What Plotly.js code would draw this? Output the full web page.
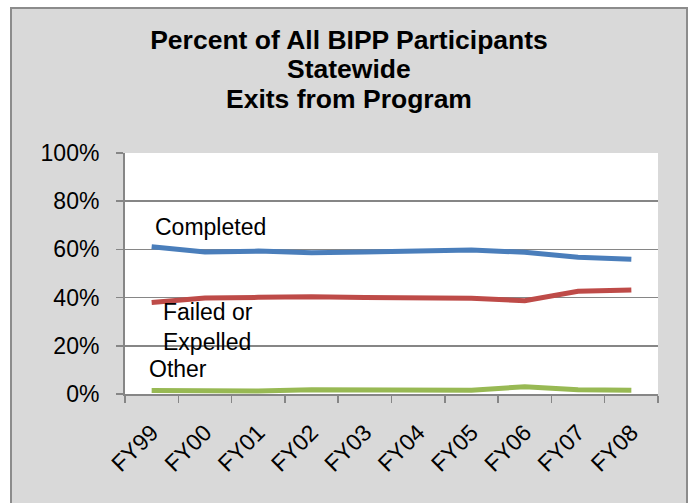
<!DOCTYPE html>
<html>
<head>
<meta charset="utf-8">
<script src="https://cdn.plot.ly/plotly-3.0.1.min.js"></script>
<style>
  html, body { margin: 0; padding: 0; background: #ffffff; width: 692px; height: 503px; overflow: hidden; }
  #frame { position: absolute; left: 10px; top: 7px; width: 674px; height: 500px;
           border-left: 2px solid #8c8c8c; border-top: 2px solid #8c8c8c; border-right: 2px solid #8c8c8c;
           background: #d9d9d9; }
  #chart { position: absolute; left: 12px; top: 9px; width: 674px; height: 494px; }
</style>
</head>
<body>
<div id="frame"></div>
<div id="chart"></div>
<script>
const categories = ["FY99", "FY00", "FY01", "FY02", "FY03", "FY04", "FY05", "FY06", "FY07", "FY08"];
const seriesNames = ["Completed", "Failed or<br>Expelled", "Other"];
const completed = [61.1, 58.9, 59.3, 58.6, 58.9, 59.5, 59.7, 58.8, 56.7, 55.9];
const failedExpelled = [38.0, 39.8, 40.1, 40.4, 40.0, 40.0, 39.7, 38.7, 42.6, 43.2];
const other = [1.5, 1.4, 1.2, 1.8, 1.9, 1.6, 1.6, 3.0, 1.8, 1.6];
const yTickVals = [0, 20, 40, 60, 80, 100];
const titleLines = ["Percent of All BIPP Participants", "Statewide", "Exits from Program"];

const colors = ["#4a7ebb", "#be4b48", "#98b954"];
const seriesValues = [completed, failedExpelled, other];

const traces = seriesValues.map((vals, i) => ({
  type: "scatter",
  mode: "lines",
  x: categories,
  y: vals,
  name: seriesNames[i],
  line: { color: colors[i], width: 5 },
  hoverinfo: "skip"
}));

const FONT = "Liberation Sans, Arial, sans-serif";
const W = 674, H = 494;
const TITLE_SIZE = 26.5;
const TEXT_SIZE = 23;

const labelPos = [
  { x: 0.052, y: 0.693 },
  { x: 0.067, y: 0.278 },
  { x: 0.041, y: 0.102 }
];
// centre heights of the title lines, in pixels from the top of the chart
const titleLineY = [31, 60.5, 90];

const titleAnnotations = titleLines.slice(1).map((t, i) => ({
  text: "<b>" + t + "</b>",
  xref: "paper", yref: "paper",
  x: (337 - 113) / (W - 113 - 28), xanchor: "center",
  y: 1 + (144 - titleLineY[i + 1]) / (H - 144 - 109), yanchor: "middle",
  showarrow: false,
  font: { family: FONT, size: TITLE_SIZE, color: "#000000" }
}));

const layout = {
  width: W, height: H,
  paper_bgcolor: "rgba(0,0,0,0)",
  plot_bgcolor: "#ffffff",
  showlegend: false,
  margin: { l: 113, r: 28, t: 144, b: 109, pad: 0 },
  font: { family: FONT, color: "#000000", size: TEXT_SIZE },
  title: {
    text: "<b>" + titleLines[0] + "</b>",
    font: { family: FONT, size: TITLE_SIZE, color: "#000000" },
    xref: "container", x: 0.5, xanchor: "center",
    yref: "container", y: 1 - titleLineY[0] / H, yanchor: "middle"
  },
  xaxis: {
    type: "category",
    tickson: "boundaries",
    ticks: "outside", ticklen: 7, tickwidth: 1.5, tickcolor: "#868686",
    showline: true, linecolor: "#868686", linewidth: 2,
    showgrid: false, zeroline: false,
    tickangle: -45,
    ticklabelstandoff: 14,
    tickfont: { family: FONT, size: TEXT_SIZE, color: "#000000" },
    range: [-0.5, 9.5]
  },
  yaxis: {
    range: [0, 100],
    tickvals: yTickVals,
    ticktext: yTickVals.map(v => v + "%"),
    ticks: "outside", ticklen: 7, tickwidth: 1.5, tickcolor: "#868686",
    showline: true, linecolor: "#868686", linewidth: 2,
    showgrid: true, gridcolor: "#868686", gridwidth: 1.5,
    zeroline: false,
    tickfont: { family: FONT, size: TEXT_SIZE, color: "#000000" },
    ticklabelstandoff: 12
  },
  annotations: seriesNames.map((t, i) => ({
    text: t,
    xref: "paper", yref: "paper",
    x: labelPos[i].x, y: labelPos[i].y,
    xanchor: "left", yanchor: "middle", align: "left",
    showarrow: false,
    font: { family: FONT, size: TEXT_SIZE, color: "#000000" }
  })).concat(titleAnnotations)
};

Plotly.newPlot("chart", traces, layout, { displayModeBar: false, staticPlot: true });
</script>
</body>
</html>
